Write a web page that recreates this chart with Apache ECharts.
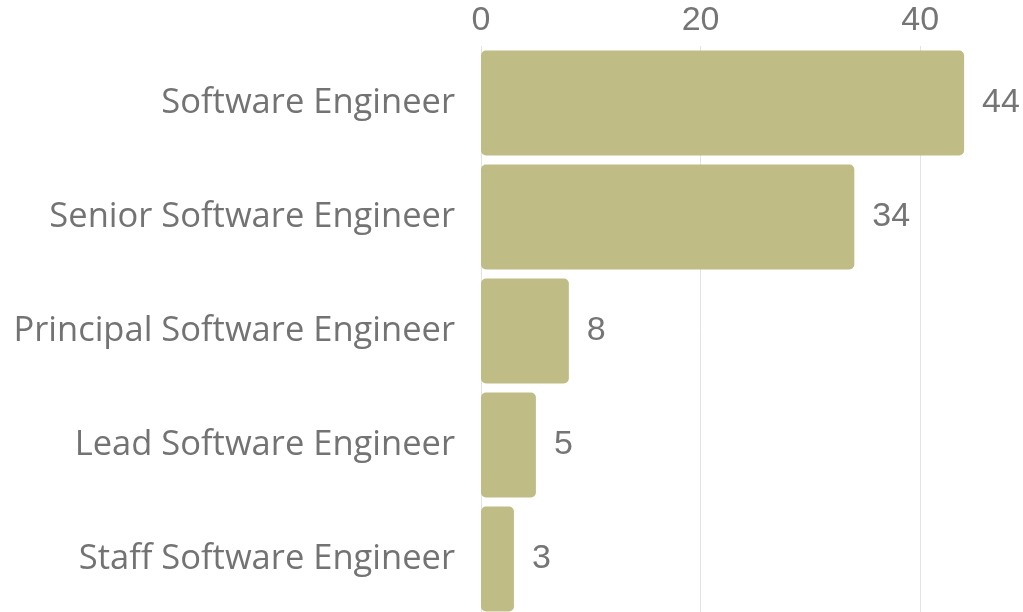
<!DOCTYPE html>
<html>
<head>
<meta charset="utf-8">
<script src="https://cdn.jsdelivr.net/npm/echarts@6/dist/echarts.min.js"></script>
<style>
  html, body { margin: 0; padding: 0; background: #fff; }
  #chart { width: 1023px; height: 612px; }
</style>
</head>
<body>
<div id="chart"></div>
<script>
// job titles and counts
const titles = [
    'Software Engineer',
    'Senior Software Engineer',
    'Principal Software Engineer',
    'Lead Software Engineer',
    'Staff Software Engineer'
];
const counts = [44, 34, 8, 5, 3];
const ticks = [0, 20, 40];

const chart = echarts.init(document.getElementById('chart'));
const option = {
    animation: false,
    // grid runs a little past the canvas so the 50 gridline falls outside
    grid: { left: 481, right: -7, top: 46, bottom: -4, outerBoundsMode: 'none' },
    xAxis: {
        type: 'value',
        position: 'top',
        min: ticks[0],
        max: 50,
        interval: ticks[1] - ticks[0],
        axisLine: { show: false },
        axisTick: { show: false },
        splitLine: { lineStyle: { color: '#e3e3e3', width: 1 } },
        axisLabel: {
            color: '#757575',
            fontSize: 34,
            fontFamily: 'Liberation Sans',
            margin: 8,
            showMaxLabel: false
        }
    },
    yAxis: {
        type: 'category',
        data: titles,
        inverse: true,
        axisLine: { show: false },
        axisTick: { show: false },
        axisLabel: {
            color: '#737373',
            fontSize: 34.5,
            fontFamily: 'Open Sans',
            margin: 26
        }
    },
    series: [{
        type: 'bar',
        data: counts,
        barCategoryGap: '8%',
        itemStyle: { color: '#bfbd85', borderRadius: 5 },
        label: {
            show: true,
            position: 'right',
            distance: 18,
            color: '#757575',
            fontSize: 34,
            fontFamily: 'Liberation Sans'
        }
    }]
};
chart.setOption(option);
</script>
</body>
</html>
